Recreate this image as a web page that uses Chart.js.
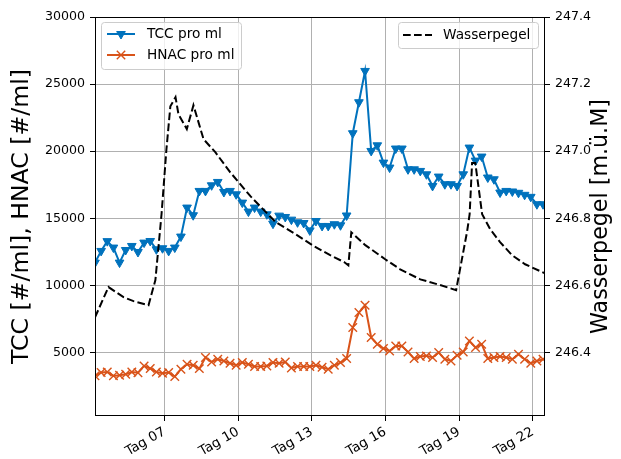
<!DOCTYPE html>
<html><head><meta charset="utf-8">
<script src="https://cdn.jsdelivr.net/npm/chart.js@4/dist/chart.umd.min.js"></script>
<style>html,body{margin:0;padding:0;background:#fff;}canvas{display:block;}</style>
</head><body>
<canvas id="c" width="621" height="459"></canvas>
<script>
// ---- Daten ----
const messTage = [4.17,4.42,4.67,4.92,5.17,5.42,5.67,5.92,6.17,6.42,6.67,6.92,7.17,7.42,7.67,7.92,8.17,8.42,8.67,8.92,9.17,9.42,9.67,9.92,10.17,10.42,10.67,10.92,11.17,11.42,11.67,11.92,12.17,12.42,12.67,12.92,13.17,13.42,13.67,13.92,14.17,14.42,14.67,14.92,15.17,15.42,15.67,15.92,16.17,16.42,16.67,16.92,17.17,17.42,17.67,17.92,18.17,18.42,18.67,18.92,19.17,19.42,19.67,19.92,20.17,20.42,20.67,20.92,21.17,21.42,21.67,21.92,22.17,22.42];
const tccProMl = [11700,12570,13300,12820,11700,12640,12940,12490,13190,13310,12690,12770,12570,12820,13640,15800,15230,17040,17040,17460,17710,16960,17040,16790,16170,
  15500,15800,15500,15300,14600,15200,15100,14900,14700,14650,14100,14800,14430,14430,14560,14480,15210,
  21340,23650,25980,20020,20440,19150,18780,20200,20200,18650,18650,18530,18280,17410,18110,
  17540,17540,17410,18280,20270,19300,19600,18040,17910,16920,17040,17000,16900,16750,16600,16050,16050];
const hnacProMl = [3260,3510,3550,3260,3310,3380,3550,3500,4000,3810,3550,3460,3510,3210,3760,4130,4050,3800,4630,4300,4500,4370,4200,4050,4250,4130,3960,3960,4000,4250,4200,4300,3850,3960,3960,3960,4050,
  3900,3760,4050,4250,4550,6860,7980,8520,6120,5620,5300,5120,5490,5490,5040,4550,4700,4750,4630,5000,4500,4370,4800,5040,5860,5370,5620,4550,4630,4700,4630,4500,4870,4500,4200,4370,4500];
const pegelTage = [4.17,4.72,5.33,5.74,6.35,6.63,6.88,7.08,7.24,7.45,7.57,7.91,8.18,8.59,9.07,9.68,10.50,11.52,12.33,13.07,13.75,14.33,14.49,14.61,15.18,15.99,16.60,17.42,18.23,18.88,19.33,19.43,19.53,19.66,19.94,20.27,20.67,21.16,21.69,22.50];
const wasserpegel = [246.505,246.595,246.565,246.553,246.541,246.616,246.812,247.006,247.134,247.161,247.110,247.066,247.137,247.036,246.997,246.937,246.866,246.789,246.753,246.718,246.690,246.669,246.660,246.758,246.720,246.678,246.648,246.618,246.601,246.586,246.762,246.812,246.965,246.965,246.812,246.767,246.729,246.690,246.663,246.636];
const xTickTage = [7,10,13,16,19,22];
const xTickLabels = ['Tag 07','Tag 10','Tag 13','Tag 16','Tag 19','Tag 22'];
const yLinksTicks = [5000,10000,15000,20000,25000,30000];
const yRechtsTicks = [246.4,246.6,246.8,247.0,247.2,247.4];
const titelLinks = 'TCC [#/ml], HNAC [#/ml]';
const titelRechts = 'Wasserpegel [m.ü.M]';

const BLAU = '#0072BD', ORANGE = '#D95319';
const FONT = 'DejaVu Sans';

const rahmen = {
  id: 'rahmen',
  afterDatasetsDraw(chart) {
    const {ctx, chartArea: a} = chart;
    ctx.save();
    ctx.strokeStyle = '#000'; ctx.lineWidth = 1;
    ctx.strokeRect(a.left + 0.5, a.top + 0.5, a.right - a.left - 1, a.bottom - a.top - 1);
    ctx.restore();
  }
};

function tri(ctx, x, y, r) {
  ctx.beginPath();
  ctx.moveTo(x, y + r);
  ctx.lineTo(x - r * 0.866, y - r * 0.5);
  ctx.lineTo(x + r * 0.866, y - r * 0.5);
  ctx.closePath(); ctx.fill(); ctx.stroke();
}
function kreuz(ctx, x, y, h) {
  ctx.beginPath();
  ctx.moveTo(x - h, y - h); ctx.lineTo(x + h, y + h);
  ctx.moveTo(x - h, y + h); ctx.lineTo(x + h, y - h);
  ctx.stroke();
}
function box(ctx, x, y, w, h) {
  ctx.beginPath();
  ctx.roundRect(x + 0.5, y + 0.5, w, h, 3);
  ctx.fillStyle = 'rgba(255,255,255,0.8)'; ctx.fill();
  ctx.strokeStyle = '#cccccc'; ctx.lineWidth = 1; ctx.stroke();
}
const legenden = {
  id: 'legenden',
  afterDraw(chart) {
    const ctx = chart.ctx;
    const ds = chart.data.datasets;
    const a = chart.chartArea;
    ctx.save();
    ctx.font = '13.7px "' + FONT + '"';
    ctx.textBaseline = 'middle';
    // linke Legende
    box(ctx, 101, 22, 140, 47);
    ctx.lineWidth = 2; ctx.strokeStyle = BLAU; ctx.fillStyle = BLAU;
    ctx.beginPath(); ctx.moveTo(107, 34); ctx.lineTo(135, 34); ctx.stroke();
    ctx.lineWidth = 1; tri(ctx, 121, 34, 5);
    ctx.lineWidth = 2; ctx.strokeStyle = ORANGE;
    ctx.beginPath(); ctx.moveTo(107, 55); ctx.lineTo(135, 55); ctx.stroke();
    ctx.lineWidth = 1.4; kreuz(ctx, 121, 55, 4.2);
    ctx.fillStyle = '#000';
    ctx.fillText(ds[0].label, 147, 34);
    ctx.fillText(ds[1].label, 147, 55);
    // rechte Legende
    box(ctx, 398, 22, 140, 26);
    ctx.strokeStyle = '#000'; ctx.lineWidth = 2; ctx.setLineDash([7.7, 3.3]);
    ctx.beginPath(); ctx.moveTo(403, 35); ctx.lineTo(432, 35); ctx.stroke();
    ctx.setLineDash([]);
    ctx.fillStyle = '#000';
    ctx.fillText(ds[2].label, 443, 35);
    // Achsentitel (beide von unten nach oben)
    ctx.textAlign = 'center';
    ctx.textBaseline = 'alphabetic';
    const cy = (a.top + a.bottom) / 2;
    ctx.font = '23.6px "' + FONT + '"';
    ctx.save(); ctx.translate(27.5, cy); ctx.rotate(-Math.PI / 2);
    ctx.fillText(titelLinks, 0, 0); ctx.restore();
    ctx.font = '22.2px "' + FONT + '"';
    ctx.save(); ctx.translate(607, cy); ctx.rotate(-Math.PI / 2);
    ctx.fillText(titelRechts, 0, 0); ctx.restore();
    ctx.restore();
  }
};

const xTickFont = {family: FONT, size: 13.3};
const yTickFont = {family: FONT, size: 12.6};

new Chart(document.getElementById('c'), {
  type: 'line',
  data: {
    datasets: [
      {
        label: 'TCC pro ml',
        data: messTage.map((t, i) => ({x: t, y: tccProMl[i]})),
        yAxisID: 'y', borderColor: BLAU, backgroundColor: BLAU,
        borderWidth: 2, pointStyle: 'triangle', pointRotation: 180,
        pointRadius: 5, pointBorderWidth: 1, tension: 0, order: 1
      },
      {
        label: 'HNAC pro ml',
        data: messTage.map((t, i) => ({x: t, y: hnacProMl[i]})),
        yAxisID: 'y', borderColor: ORANGE, backgroundColor: ORANGE,
        borderWidth: 2, pointStyle: 'crossRot', pointRadius: 6,
        pointBorderWidth: 1.4, tension: 0, order: 2
      },
      {
        label: 'Wasserpegel',
        data: pegelTage.map((t, i) => ({x: t, y: wasserpegel[i]})),
        yAxisID: 'y2', borderColor: '#000', borderDash: [7.7, 3.3],
        borderWidth: 2, pointRadius: 0, tension: 0, order: 0
      }
    ]
  },
  options: {
    responsive: false, animation: false, devicePixelRatio: 1, events: [],
    layout: {padding: {top: 17, left: 0, right: 0, bottom: 0}},
    plugins: {legend: {display: false}, tooltip: {enabled: false}},
    scales: {
      x: {
        type: 'linear', min: 4.17, max: 22.5,
        afterBuildTicks: s => { s.ticks = xTickTage.map(v => ({value: v})); },
        afterFit: s => { s.height = 43; },
        ticks: {
          autoSkip: false, minRotation: 30, maxRotation: 30, color: '#000', font: xTickFont, padding: 3,
          callback: v => xTickLabels[xTickTage.indexOf(v)]
        },
        grid: {color: '#b0b0b0', lineWidth: 1, tickColor: '#000', tickLength: 5},
        border: {display: false}
      },
      y: {
        type: 'linear', position: 'left', min: 270, max: 30000,
        afterBuildTicks: s => { s.ticks = yLinksTicks.map(v => ({value: v})); },
        afterFit: s => { s.width = 95; },
        ticks: {color: '#000', font: yTickFont, padding: 5, callback: v => String(v)},
        grid: {color: '#b0b0b0', lineWidth: 1, tickColor: '#000', tickLength: 5},
        border: {display: false}
      },
      y2: {
        type: 'linear', position: 'right', min: 246.2107, max: 247.4,
        afterBuildTicks: s => { s.ticks = yRechtsTicks.map(v => ({value: v})); },
        afterFit: s => { s.width = 76; },
        ticks: {color: '#000', font: yTickFont, padding: 5, callback: v => v.toFixed(1)},
        grid: {drawOnChartArea: false, tickColor: '#000', tickLength: 5},
        border: {display: false}
      }
    }
  },
  plugins: [rahmen, legenden]
});
</script>
</body></html>
